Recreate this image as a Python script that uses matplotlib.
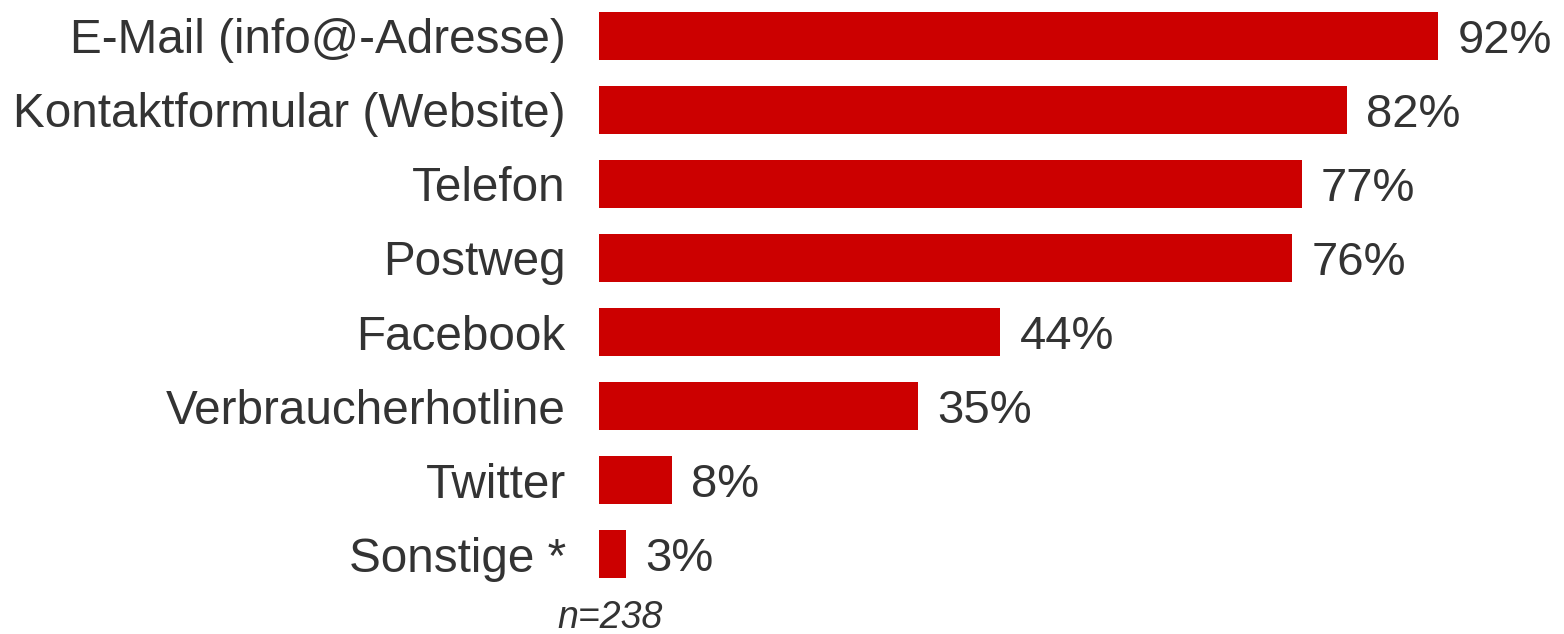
import matplotlib.pyplot as plt

categories = [
    "E-Mail (info@-Adresse)",
    "Kontaktformular (Website)",
    "Telefon",
    "Postweg",
    "Facebook",
    "Verbraucherhotline",
    "Twitter",
    "Sonstige *",
]
values = [92, 82, 77, 76, 44, 35, 8, 3]
note = "n=238"

plt.rcParams['font.family'] = ['Liberation Sans', 'DejaVu Sans']

fig = plt.figure(figsize=(15.64, 6.34), dpi=100)
ax = fig.add_axes([599 / 1564, 44 / 634, 958 / 1564, 590 / 634])

ypos = list(range(len(categories)))
ax.barh(ypos, values, height=0.65, color="#cc0000")

ax.set_xlim(0, 105)
ax.set_ylim(len(categories) - 0.514, -0.486)

for y, v in zip(ypos, values):
    ax.text(v + 2.1, y, f"{v}%", va="center_baseline", ha="left",
            fontsize=34, color="#333333")

ax.set_yticks(ypos)
ax.set_yticklabels(categories, fontsize=34.3, color="#333333",
                   va="center_baseline")
ax.tick_params(axis="y", length=0, pad=24)
ax.set_xticks([])
for s in ax.spines.values():
    s.set_visible(False)

fig.text(610 / 1564, 1 - 618 / 634, note, ha="center", va="center",
         fontsize=27, style="italic", color="#333333")

fig.savefig("out.png", dpi=100)
